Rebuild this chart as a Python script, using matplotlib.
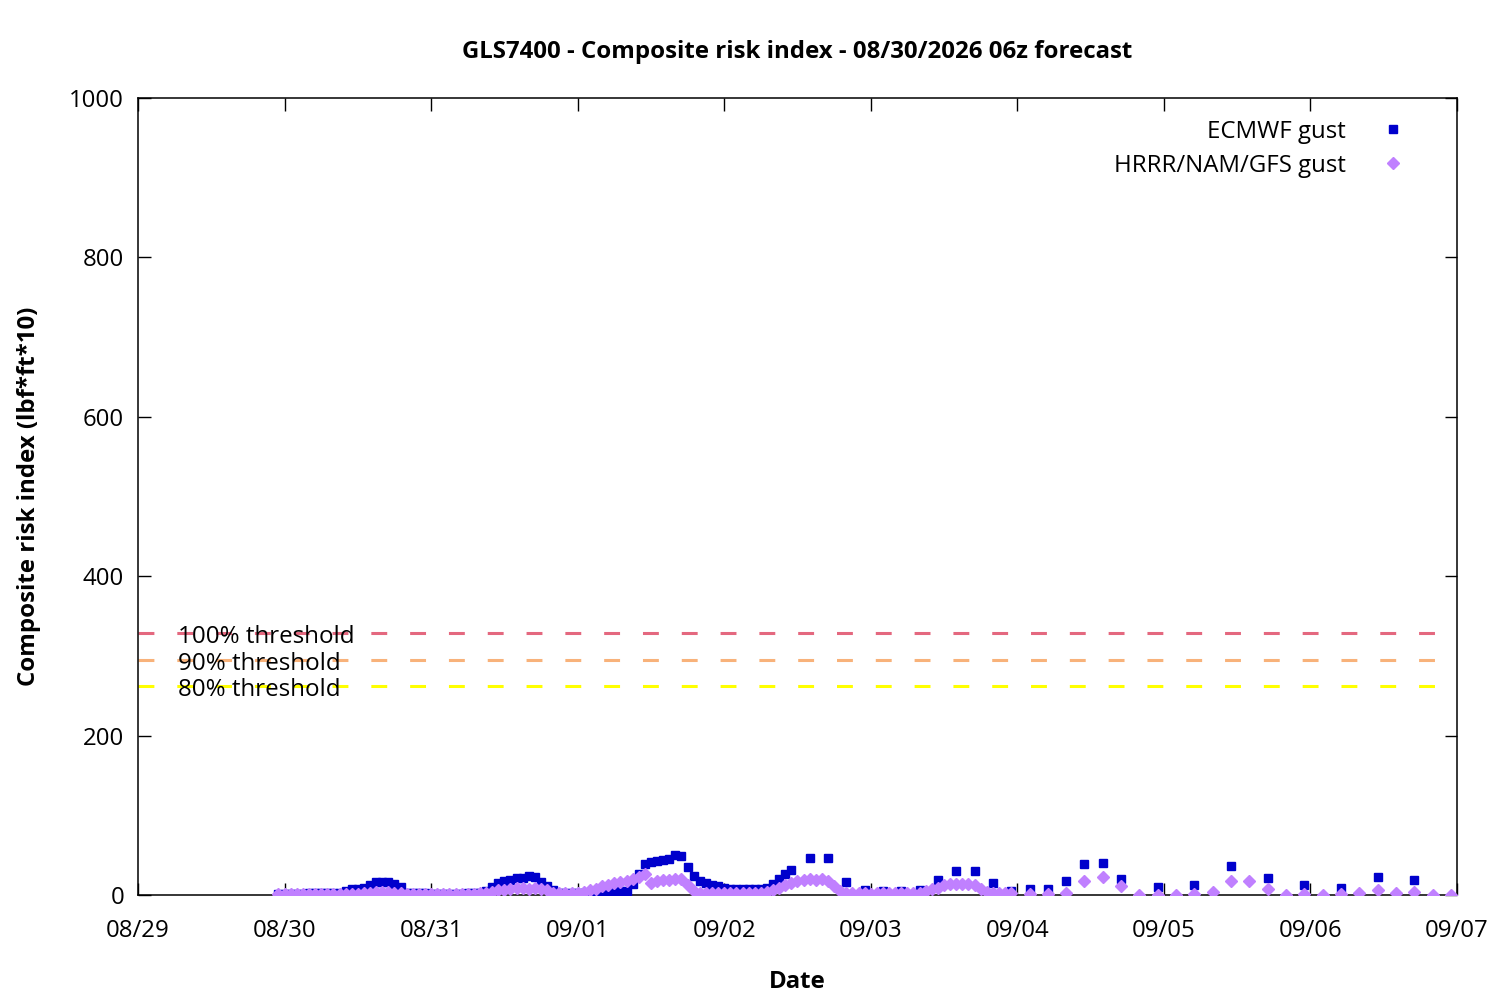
import numpy as np
import pandas as pd
import matplotlib
matplotlib.use("Agg")
import matplotlib.pyplot as plt
import matplotlib.dates as mdates
import matplotlib.transforms as mtransforms

plt.rcParams["font.family"] = ["Open Sans", "Noto Sans", "DejaVu Sans"]

# ---- data (hours after 08/30 00z) ----
ecmwf_hours = np.concatenate([np.arange(-1, 84), np.arange(86, 138, 3), np.arange(143, 186, 6)])
ecmwf_gust = np.array(
    [1, 1, 1, 1, 1, 2, 2, 2, 2, 2,
     3, 5, 7, 7, 9, 12, 16, 16, 16, 14, 10, 3,
     2, 2, 2, 1, 1, 1, 1, 1, 1, 2, 2, 2,
     5, 10, 15, 18, 19, 21, 21, 24, 22, 16, 11, 6,
     3, 3, 3, 3, 3, 1, 1, 3, 4, 5, 5, 5,
     14, 26, 39, 42, 43, 44, 45, 50, 49, 35, 24, 17,
     15, 13, 11, 9, 8, 8, 8, 8, 8, 8, 9, 14, 20, 26, 31,
     # 3-hourly
     46, 46, 16, 6, 5, 5, 6, 19, 30, 30, 15, 5, 7, 7, 17, 39, 40, 20,
     # 6-hourly
     10, 12, 36, 21, 12, 9, 23, 19])

hrrr_hours = np.concatenate([np.arange(-1, 120), np.arange(122, 192, 3)])
hrrr_gust = np.array(
    [1, 1, 1, 1, 1, 1, 1, 1, 1, 1, 1, 1, 1, 1,
     2, 3, 4, 4, 4, 3, 2,
     1, 1, 1, 1, 1, 1, 1, 1, 1, 1, 1, 1,
     2, 3, 4, 6, 6, 8, 9, 9, 8, 9, 7, 6, 2, 2, 2, 3, 3, 4,
     6, 8, 11, 13, 15, 16, 18, 20, 23, 26,
     15, 18, 19, 19, 20, 20, 12, 5,
     3, 2, 2, 2, 2, 2, 2, 2, 2, 2, 3,
     4, 6, 9, 12, 15, 17, 19, 20, 19, 20, 18, 11, 5, 2,
     2, 2, 2, 1, 2, 2, 2, 2, 2, 2, 2, 3,
     5, 7, 9, 13, 14, 14, 14, 14, 12, 7, 4, 2, 2, 2, 2,
     # 3-hourly
     1, 1, 3, 17, 23, 11, 0, 0, 0, 1, 4, 18, 18, 8, 0, 1, 0, 1, 2, 6, 3, 4, 0, 0])

threshold_values = [329, 295, 262]
threshold_labels = ["100% threshold", "90% threshold", "80% threshold"]
threshold_colors = ["#e4687f", "#f8b27a", "#ffff00"]

base = pd.Timestamp("2026-08-30 00:00")
ecmwf_time = base + pd.to_timedelta(ecmwf_hours, unit="h")
hrrr_time = base + pd.to_timedelta(hrrr_hours, unit="h")

# ---- figure ----
fig = plt.figure(figsize=(15, 10), dpi=100)
ax = fig.add_axes([0.092, 0.105, 0.8793, 0.797])

# threshold lines, label sits on top of the line a bit low
trans = mtransforms.blended_transform_factory(ax.transAxes, ax.transData)
trans = trans + mtransforms.ScaledTranslation(0, -3 / 72, fig.dpi_scale_trans)
for val, lab, col in zip(threshold_values, threshold_labels, threshold_colors):
    ln = ax.axhline(val, color=col, lw=2.2, zorder=1)
    ln.set_dashes((5.2, 7.5))
    ax.text(0.0303, val, lab, transform=trans, va="center", ha="left", fontsize=17.4, zorder=2)

ax.plot(ecmwf_time, ecmwf_gust, ls="none", marker="s", ms=5.8, color="#0000cc",
        mec="#0000cc", label="ECMWF gust", zorder=3)
ax.plot(hrrr_time, hrrr_gust, ls="none", marker="D", ms=6.5, color="#c080ff",
        mec="#c080ff", label="HRRR/NAM/GFS gust", zorder=4)

ax.set_xlim(pd.Timestamp("2026-08-29"), pd.Timestamp("2026-09-07"))
ax.set_ylim(0, 1000)
ax.set_yticks([0, 200, 400, 600, 800, 1000])
ax.xaxis.set_major_locator(mdates.DayLocator())
ax.xaxis.set_major_formatter(mdates.DateFormatter("%m/%d"))
ax.tick_params(direction="in", length=9, width=1, top=True, right=True, labelsize=17.3)
ax.tick_params(axis="x", pad=17.5)
ax.tick_params(axis="y", pad=10)
for sp in ax.spines.values():
    sp.set_linewidth(1.1)

ax.set_title("GLS7400 - Composite risk index - 08/30/2026 06z forecast",
             fontsize=17.3, fontweight="bold", pad=29)
ax.set_xlabel("Date", fontsize=17.3, fontweight="bold", labelpad=19)
ax.set_ylabel("Composite risk index (lbf*ft*10)", fontsize=17.3, fontweight="bold", labelpad=20)

ax.legend(loc="upper right", markerfirst=False, frameon=False, fontsize=17.3, numpoints=1,
          handlelength=1.0, handletextpad=1.47, labelspacing=0.42,
          bbox_to_anchor=(0.977, 1.0))

fig.savefig("out.png", dpi=100)
